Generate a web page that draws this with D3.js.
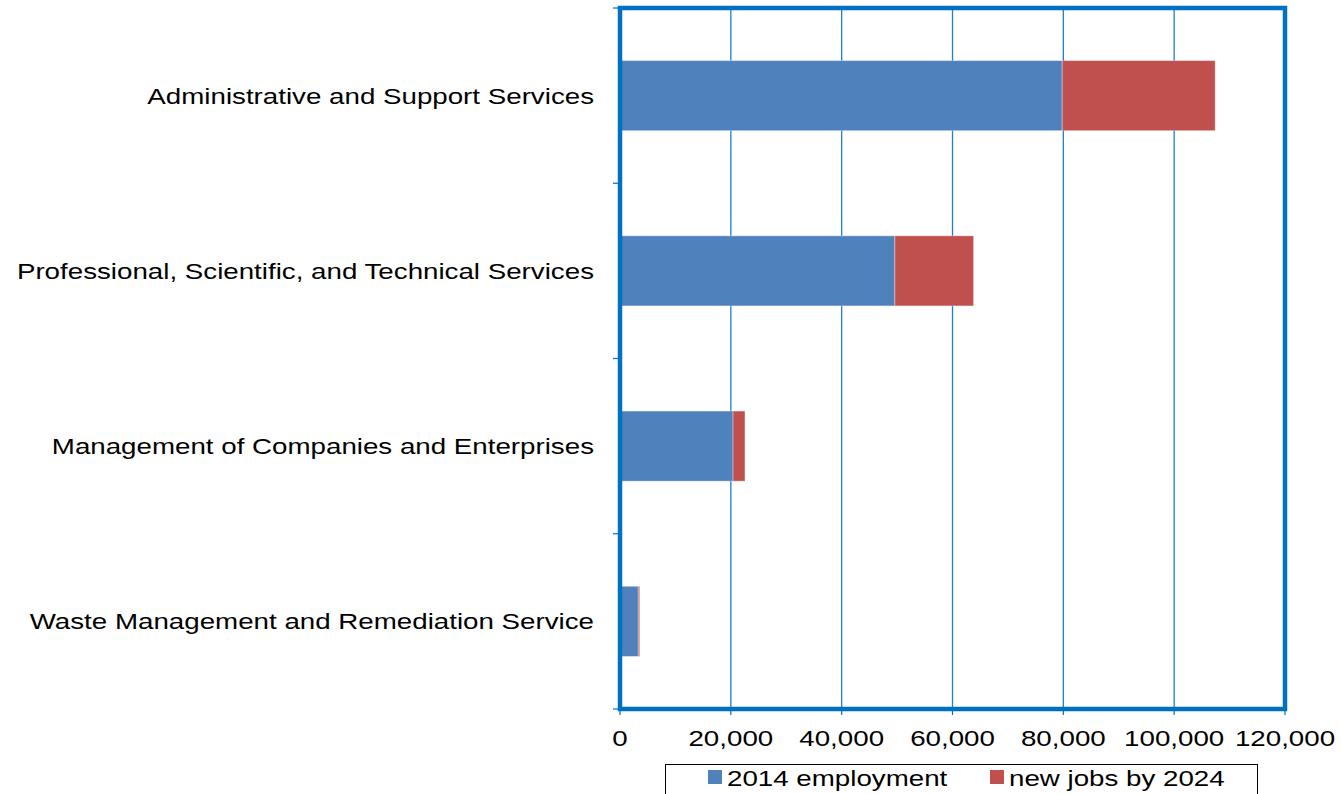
<!DOCTYPE html>
<html>
<head>
<meta charset="utf-8">
<script src="https://cdn.jsdelivr.net/npm/d3@7"></script>
<style>
  html, body { margin: 0; padding: 0; background: #fff; }
  svg { display: block; font-family: "Liberation Sans", Arial, sans-serif; }
</style>
</head>
<body>
<svg id="chart" width="1342" height="794"></svg>
<script>
// Industry groups, top to bottom
const categories = [
  "Administrative and Support Services",
  "Professional, Scientific, and Technical Services",
  "Management of Companies and Enterprises",
  "Waste Management and Remediation Service"
];
// Employment in 2014 and projected new jobs by 2024
const employment2014 = [79800, 49600, 20400, 3300];
const newJobs2024 = [27600, 14200, 2150, 250];
const seriesNames = ["2014 employment", "new jobs by 2024"];
const xTicks = [0, 20000, 40000, 60000, 80000, 100000, 120000];

const colors = ["#4F81BD", "#C0504D"];
const frameColor = "#0070C0";
const textStretch = 1.26; // wide lettering

const svg = d3.select("#chart");
const plot = { left: 620, right: 1285, top: 8, bottom: 709 };

const x = d3.scaleLinear().domain([0, 120000]).range([plot.left, plot.right]);
const y = d3.scaleBand().domain(categories).range([plot.top, plot.bottom]).paddingInner(0.6).paddingOuter(0.3);

const rows = categories.map((c, i) => ({ cat: c, v0: employment2014[i], v1: newJobs2024[i] }));
const stacked = d3.stack().keys(["v0", "v1"])(rows);

// places stretched text with its anchor at (px, py)
function placeText(sel, px, py) {
  sel.attr("x", 0).attr("y", 0)
    .attr("transform", (d, i) => `translate(${px(d, i)},${py(d, i)}) scale(${textStretch},1)`);
}

// vertical gridlines
svg.append("g").selectAll("line").data(xTicks.slice(1, -1)).join("line")
  .attr("x1", d => x(d)).attr("x2", d => x(d))
  .attr("y1", plot.top).attr("y2", plot.bottom)
  .attr("stroke", "#1C7FD1").attr("stroke-width", 1.3);

// stacked bars
svg.append("g").selectAll("g").data(stacked).join("g")
  .attr("fill", (d, i) => colors[i])
  .selectAll("rect").data(d => d).join("rect")
  .attr("x", d => x(d[0]))
  .attr("y", d => y(d.data.cat))
  .attr("width", d => x(d[1]) - x(d[0]))
  .attr("height", y.bandwidth())
  .attr("stroke", "rgba(255,255,255,0.35)")
  .attr("stroke-width", 1);

// category axis ticks (at band boundaries)
const step = (plot.bottom - plot.top) / categories.length;
const boundaries = d3.range(categories.length + 1).map(i => plot.top + i * step);
svg.append("g").selectAll("line").data(boundaries).join("line")
  .attr("x1", plot.left - 7).attr("x2", plot.left)
  .attr("y1", d => d).attr("y2", d => d)
  .attr("stroke", frameColor).attr("stroke-width", 1.2);

// value axis ticks
svg.append("g").selectAll("line").data(xTicks).join("line")
  .attr("x1", d => x(d)).attr("x2", d => x(d))
  .attr("y1", plot.bottom).attr("y2", plot.bottom + 6)
  .attr("stroke", frameColor).attr("stroke-width", 1.2);

// plot frame
svg.append("rect")
  .attr("x", plot.left).attr("y", plot.top)
  .attr("width", plot.right - plot.left).attr("height", plot.bottom - plot.top)
  .attr("fill", "none").attr("stroke", frameColor).attr("stroke-width", 4.5);

// category labels
svg.append("g").selectAll("text").data(categories).join("text")
  .attr("text-anchor", "end")
  .attr("font-size", 22)
  .attr("fill", "#000")
  .text(d => d)
  .call(placeText, () => 594, d => y(d) + y.bandwidth() / 2 + 8);

// value tick labels
const fmt = d3.format(",");
svg.append("g").selectAll("text").data(xTicks).join("text")
  .attr("text-anchor", "middle")
  .attr("font-size", 22)
  .attr("fill", "#000")
  .text(d => fmt(d))
  .call(placeText, d => x(d), () => 746);

// legend
const legend = svg.append("g");
legend.append("rect")
  .attr("x", 665.5).attr("y", 764.5).attr("width", 592).attr("height", 40)
  .attr("fill", "#fff").attr("stroke", "#000").attr("stroke-width", 1);
const legendX = [708, 990];
legend.selectAll("rect.key").data(seriesNames).join("rect")
  .attr("class", "key")
  .attr("x", (d, i) => legendX[i]).attr("y", 770).attr("width", 14).attr("height", 14)
  .attr("fill", (d, i) => colors[i]);
legend.selectAll("text").data(seriesNames).join("text")
  .attr("font-size", 22).attr("fill", "#000")
  .text(d => d)
  .call(placeText, (d, i) => legendX[i] + 19, () => 786);
</script>
</body>
</html>
